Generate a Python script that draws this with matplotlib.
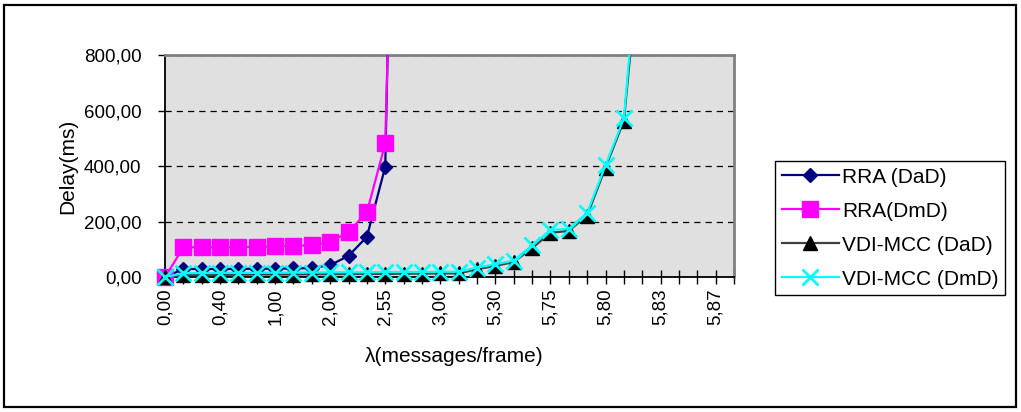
import numpy as np
import matplotlib
matplotlib.use('Agg')
import matplotlib.pyplot as plt
from matplotlib.lines import Line2D
from matplotlib.patches import Rectangle

plt.rcParams['font.family'] = ['Liberation Sans', 'DejaVu Sans']

# lambda categories (only every third one is labelled on the axis)
categories = ['0,00', '0,10', '0,20', '0,40', '0,60', '0,80', '1,00', '1,50',
              '1,80', '2,00', '2,20', '2,40', '2,55', '2,60', '2,80', '3,00',
              '4,00', '5,00', '5,30', '5,50', '5,60', '5,75', '5,76', '5,78',
              '5,80', '5,81', '5,82', '5,83', '5,84', '5,85', '5,87', '5,90']

# delay values (ms)
rra_dad = [0, 30, 30, 30, 30, 31, 31, 32, 33, 44, 77, 146, 398, 3600]
rra_dmd = [0, 108, 108, 108, 109, 110, 111, 113, 116, 126, 164, 234, 482, 3000]
vdi_dad = [0, 8, 8, 9, 9, 10, 10, 10, 11, 11, 12, 12, 12, 13, 13, 14, 14,
           29, 41, 55, 105, 160, 167, 222, 395, 563, 1250]
vdi_dmd = [0, 15, 15, 16, 16, 16, 17, 17, 17, 18, 18, 18, 19, 19, 19, 20, 20,
           35, 47, 60, 115, 171, 174, 232, 403, 572, 1330]

series = [
    ('RRA (DaD)', rra_dad, dict(color='#000080', marker='D', ms=7.5,
                                mfc='#000080', mec='#000080')),
    ('RRA(DmD)', rra_dmd, dict(color='#FF00FF', marker='s', ms=11,
                               mfc='#FF00FF', mec='#FF00FF')),
    ('VDI-MCC (DaD)', vdi_dad, dict(color='#404040', marker='^', ms=10.5,
                                    mfc='black', mec='black')),
    ('VDI-MCC (DmD)', vdi_dmd, dict(color='#00FFFF', marker='x', ms=11,
                                    mfc='#00FFFF', mec='#00FFFF', mew=2)),
]

W, H = 1021, 412
fig = plt.figure(figsize=(W / 100, H / 100), dpi=100)
ax = fig.add_axes([165 / W, 1 - 277.3 / H, (734 - 165) / W, (277.3 - 55) / H])
ax.set_facecolor('#E0E0E0')

ymax = 800
handles = []
for name, vals, st in series:
    x = np.arange(len(vals))
    y = np.array(vals, dtype=float)
    ax.plot(x, y, color=st['color'], lw=1.6, zorder=3)
    vis = y <= ymax
    mk = {k: v for k, v in st.items() if k != 'color'}
    ax.plot(x[vis], y[vis], ls='none', clip_on=False, zorder=3, **mk)
    handles.append(Line2D([], [], color=st['color'], lw=1.6, label=name, **mk))

ax.set_xlim(0, len(categories) - 1)
ax.set_ylim(0, ymax)

ax.set_xticks(range(len(categories)))
ax.set_xticklabels([c if i % 3 == 0 else '' for i, c in enumerate(categories)],
                   rotation=90, fontsize=13.5)
yt = [0, 200, 400, 600, 800]
ax.set_yticks(yt)
ax.set_yticklabels([f'{v:.2f}'.replace('.', ',') for v in yt], fontsize=13.5)
ax.tick_params(axis='x', direction='inout', length=10, width=1, pad=3)
ax.tick_params(axis='y', direction='out', length=5, width=1, pad=12)

ax.set_axisbelow(True)
ax.yaxis.grid(True, color='black', lw=0.9, linestyle=(0, (5, 4)))

for s in ['top', 'right']:
    ax.spines[s].set_color('#808080')
    ax.spines[s].set_linewidth(2)
for s in ['left', 'bottom']:
    ax.spines[s].set_color('black')
    ax.spines[s].set_linewidth(1.3)

fig.text(67.5 / W, 1 - 166 / H, 'Delay(ms)', rotation=90, ha='center',
         va='center', fontsize=15)
fig.text(454 / W, 1 - 356 / H, 'λ(messages/frame)', ha='center',
         va='center', fontsize=15)

leg = fig.legend(handles=handles, loc='upper left',
                 bbox_to_anchor=(775 / W, 1 - 161 / H), borderaxespad=0,
                 fontsize=15, handlelength=2.74, handletextpad=0.16,
                 labelspacing=0.72, borderpad=0.32, fancybox=False,
                 framealpha=1, edgecolor='black')
leg.get_frame().set_linewidth(1)

fig.patches.append(Rectangle((4 / W, 5 / H), 1012 / W, 402 / H,
                             transform=fig.transFigure, fill=False,
                             edgecolor='black', lw=1.6))

fig.savefig('out.png', dpi=100)
